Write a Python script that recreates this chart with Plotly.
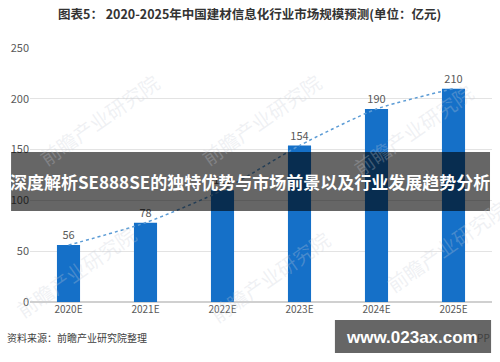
import plotly.graph_objects as go

categories = ["2020E", "2021E", "2022E", "2023E", "2024E", "2025E"]
values = [56, 78, 110, 154, 190, 210]
y_ticks = [0, 50, 100, 150, 200, 250]

title_text = "图表5： 2020-2025年中国建材信息化行业市场规模预测(单位：亿元)"
source_text = "资料来源：前瞻产业研究院整理"
banner_text = "深度解析SE888SE的独特优势与市场前景以及行业发展趋势分析"
site_text = "www.023ax.com"
watermark = "前瞻产业研究院"

FONT = "Noto Sans CJK SC"
GRAY = "#595959"

fig = go.Figure()
fig.add_trace(go.Bar(
    x=categories, y=values,
    marker=dict(color="#1570c8", line=dict(width=0)),
    text=values, textposition="outside",
    textfont=dict(family=FONT, size=11, color=GRAY),
    cliponaxis=False, hoverinfo="skip",
))
fig.add_trace(go.Scatter(
    x=categories, y=values, mode="lines",
    line=dict(color="#5b9bd5", width=1.5, dash="dot", shape="spline", smoothing=0.6),
    hoverinfo="skip",
))

shapes = [
    dict(type="rect", xref="paper", yref="paper", x0=-0.041, x1=0.9957, y0=0.358, y1=0.5906,
         fillcolor="rgba(0,0,0,0.6)", line=dict(width=0), layer="above"),
    dict(type="rect", xref="paper", yref="paper", x0=0.660, x1=0.998, y0=-0.201, y1=-0.071,
         fillcolor="rgba(0,0,0,0.6)", line=dict(width=0), layer="above"),
]

annotations = [
    dict(text="<b>" + title_text + "</b>", xref="paper", yref="paper", x=0.476, y=1.134,
         xanchor="center", yanchor="middle",
         showarrow=False, font=dict(family=FONT, size=12.5, color="#333333")),
    dict(text=source_text, xref="paper", yref="paper", x=-0.055, y=-0.138,
         xanchor="left", yanchor="middle",
         showarrow=False, font=dict(family=FONT, size=10, color="#404040")),
    dict(text="APP", xref="paper", yref="paper", x=1.0, y=-0.138,
         xanchor="right", yanchor="middle",
         showarrow=False, font=dict(family=FONT, size=10, color="#404040")),
    dict(text="<b>" + banner_text + "</b>", xref="paper", yref="paper", x=0.476, y=0.474,
         xanchor="center", yanchor="middle",
         showarrow=False, font=dict(family=FONT, size=17, color="white")),
    dict(text="<b>" + site_text + "</b>", xref="paper", yref="paper", x=0.826, y=-0.138,
         xanchor="center", yanchor="middle",
         showarrow=False, font=dict(family="Liberation Sans", size=17, color="white")),
]
for wx, wy in [(0.15, 0.72), (0.50, 0.72), (0.83, 0.68), (0.10, 0.12), (0.52, 0.10), (0.90, 0.22)]:
    annotations.append(dict(text=watermark, xref="paper", yref="paper", x=wx, y=wy,
                            xanchor="center", yanchor="middle",
                            showarrow=False, textangle=-35,
                            font=dict(family=FONT, size=20, color="rgba(200,205,215,0.28)")))

fig.update_layout(
    width=500, height=362,
    margin=dict(l=30, r=8, t=48, b=60),
    paper_bgcolor="white", plot_bgcolor="white",
    showlegend=False, bargap=0.70,
    shapes=shapes, annotations=annotations,
    xaxis=dict(showgrid=False, showline=False, ticks="",
               tickfont=dict(family=FONT, size=10, color=GRAY)),
    yaxis=dict(range=[0, 250], tickvals=y_ticks, showgrid=True, gridcolor="#e3e3e3",
               gridwidth=1, zeroline=True, zerolinecolor="#d0d0d0", showline=False, ticks="",
               tickfont=dict(family=FONT, size=11, color=GRAY)),
)

fig.write_html("out.html", config={"displayModeBar": False},
               post_script="document.body.style.margin='0';")
